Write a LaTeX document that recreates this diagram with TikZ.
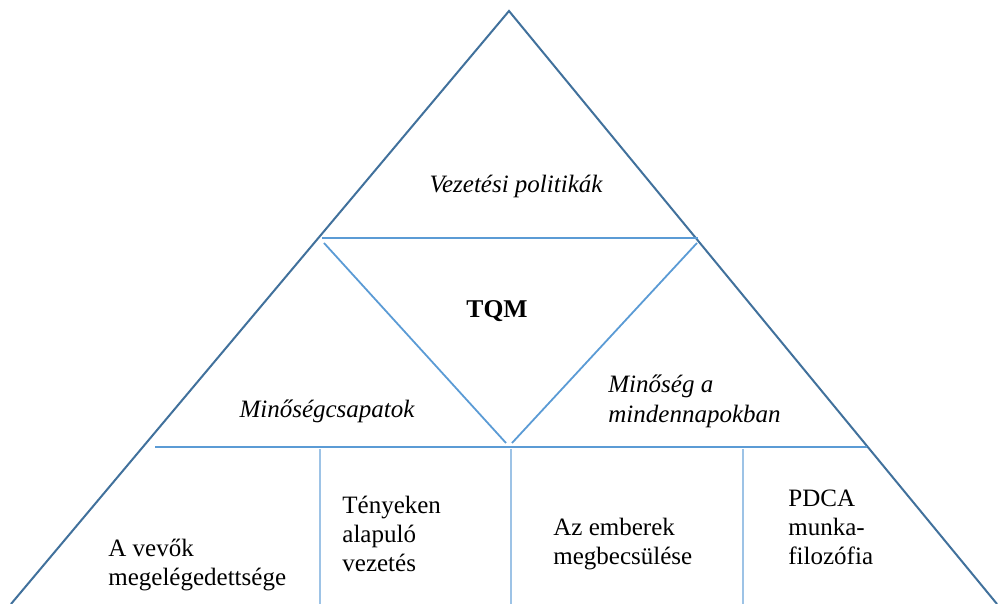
\documentclass[tikz,border=0pt]{standalone}
\usepackage{fontspec}
\setmainfont{Liberation Serif}
\definecolor{edgeblue}{HTML}{41719C}
\definecolor{innerblue}{HTML}{5B9BD5}
\definecolor{paleblue}{HTML}{9DC3E6}

\begin{document}
\begin{tikzpicture}[x=0.5pt,y=-0.5pt,
    blocktext/.style={inner sep=0pt,font=\fontsize{12.5}{14.5}\selectfont,align=left,anchor=base west},
    midtext/.style={inner sep=0pt,font=\fontsize{12.5}{14.5}\selectfont\itshape,anchor=base}]
  \useasboundingbox (0,0) rectangle (998,604);
  % outer pyramid
  \coordinate (apex) at (509,11);
  \coordinate (lefttoe) at (11,604);
  \coordinate (righttoe) at (997,604);
  \draw[edgeblue,line width=1pt] (lefttoe) -- (apex) -- (righttoe);
  % upper band and inverted triangle
  \coordinate (ul) at (322,238);
  \coordinate (ur) at (698,238);
  \coordinate (vtip) at (509,445);
  \draw[innerblue,line width=1pt] (ul) -- (ur);
  \draw[innerblue,line width=0.9pt] (324,243) -- (506,443);
  \draw[innerblue,line width=0.9pt] (512,443) -- (697,243);
  % base band
  \coordinate (bl) at (155,447);
  \coordinate (br) at (867,447);
  \draw[innerblue,line width=1pt] (bl) -- (br);
  \foreach \xx in {320,511,743}
    \draw[paleblue,line width=0.8pt] (\xx,449) -- (\xx,604);
  % texts
  \node[midtext] (politika) at (516,193) {Vezetési politikák};
  \node[midtext,font=\fontsize{12.8}{14.5}\selectfont\bfseries] (tqm) at (497,318) {TQM};
  \node[midtext] (csapat) at (327,418) {Minőségcsapatok};
  \node[blocktext,font=\fontsize{12.5}{15}\selectfont\itshape] (napok) at (608,423) {Minőség a\\mindennapokban};
  \node[blocktext] (vevo) at (108,586) {A vevők\\megelégedettsége};
  \node[blocktext] (teny) at (342,572) {Tényeken\\alapuló\\vezetés};
  \node[blocktext] (ember) at (553,565) {Az emberek\\megbecsülése};
  \node[blocktext] (pdca) at (788,565) {PDCA\\munka-\\filozófia};
\end{tikzpicture}
\end{document}
